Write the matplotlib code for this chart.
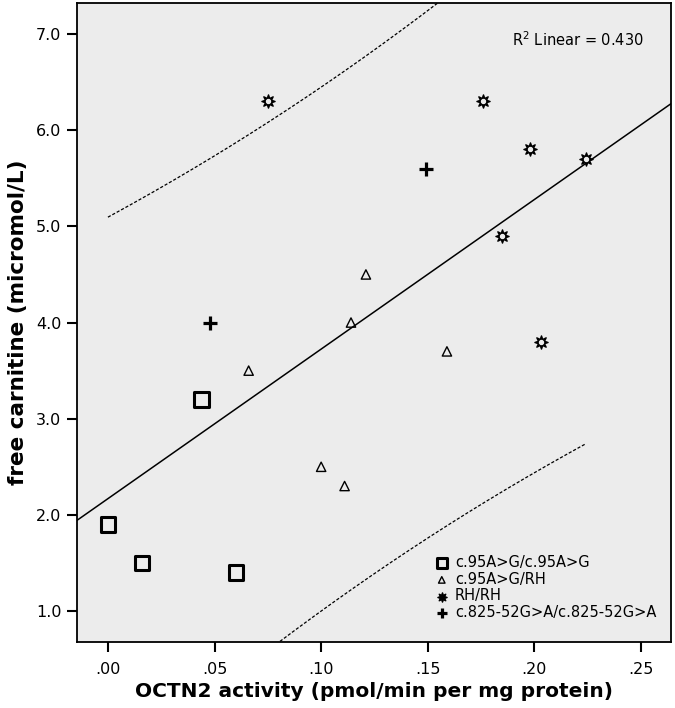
import numpy as np
import matplotlib
matplotlib.use("Agg")
import matplotlib.pyplot as plt

# genotype groups: OCTN2 activity (x) and free carnitine (y)
sq_x = [0.000, 0.016, 0.044, 0.060]
sq_y = [1.9, 1.5, 3.2, 1.4]
tri_x = [0.066, 0.100, 0.111, 0.114, 0.121, 0.159]
tri_y = [3.5, 2.5, 2.3, 4.0, 4.5, 3.7]
star_x = [0.075, 0.176, 0.185, 0.198, 0.203, 0.224]
star_y = [6.3, 6.3, 4.9, 5.8, 3.8, 5.7]
plus_x = [0.048, 0.149]
plus_y = [4.0, 5.6]

labels = ["c.95A>G/c.95A>G", "c.95A>G/RH", "RH/RH", "c.825-52G>A/c.825-52G>A"]
x_ticks = [0.00, 0.05, 0.10, 0.15, 0.20, 0.25]
x_ticklabels = [".00", ".05", ".10", ".15", ".20", ".25"]
y_ticks = [1.0, 2.0, 3.0, 4.0, 5.0, 6.0, 7.0]

plt.rcParams['font.family'] = ['DejaVu Sans']
bg = "#ececec"

fig = plt.figure(figsize=(6.75, 7.08), dpi=100)
ax = fig.add_axes([0.1141, 0.0932, 0.88, 0.9025])
ax.set_facecolor(bg)

# regression line + 95% prediction interval
x_all = np.array(sq_x + tri_x + star_x + plus_x)
y_all = np.array(sq_y + tri_y + star_y + plus_y)
b, a = np.polyfit(x_all, y_all, 1)
n = len(x_all)
resid = y_all - (a + b * x_all)
s = np.sqrt(np.sum(resid ** 2) / (n - 2))
t = 2.12  # t(0.975, 16)
xm = x_all.mean()
sxx = np.sum((x_all - xm) ** 2)

xl = np.linspace(-0.03, 0.28, 200)
ax.plot(xl, a + b * xl, color="black", lw=1.1, zorder=2)

xp = np.linspace(x_all.min(), x_all.max(), 200)
half = t * s * np.sqrt(1 + 1 / n + (xp - xm) ** 2 / sxx)
ax.plot(xp, a + b * xp + half, color="black", lw=0.9, ls=(0, (2.5, 1.5)), zorder=2)
ax.plot(xp, a + b * xp - half, color="black", lw=0.9, ls=(0, (2.5, 1.5)), zorder=2)

# markers
ax.scatter(sq_x, sq_y, marker="s", s=110, facecolor="none", edgecolor="black",
           linewidths=2.2, zorder=3, label=labels[0])
ax.scatter(tri_x, tri_y, marker="^", s=45, facecolor="none", edgecolor="black",
           linewidths=1.0, zorder=3, label=labels[1])
ax.scatter(star_x, star_y, marker=(8, 1, 0), s=90, color="black", zorder=3, label=labels[2])
ax.scatter(star_x, star_y, marker="o", s=8, color=bg, zorder=4)
ax.scatter(plus_x, plus_y, marker="+", s=90, color="black", linewidths=2.3, zorder=3,
           label=labels[3])

ax.text(0.1895, 6.94, r"R$^2$ Linear = 0.430", fontsize=10.5, va="center")

ax.set_xlim(-0.0145, 0.2641)
ax.set_ylim(0.678, 7.322)
ax.set_xticks(x_ticks)
ax.set_xticklabels(x_ticklabels)
ax.set_yticks(y_ticks)
ax.set_yticklabels([f"{v:.1f}" for v in y_ticks])
ax.tick_params(direction="out", length=7.2, width=1.5, labelsize=11.5)
ax.tick_params(axis="x", pad=7)
ax.tick_params(axis="y", pad=4)
for sp in ax.spines.values():
    sp.set_linewidth(1.3)

ax.set_xlabel("OCTN2 activity (pmol/min per mg protein)", fontsize=14.5,
              fontweight="bold", labelpad=4)
ax.set_ylabel("free carnitine (micromol/L)", fontsize=15.5, fontweight="bold",
              labelpad=6)

leg = ax.legend(loc="lower right", bbox_to_anchor=(0.985, 0.025), frameon=False,
                fontsize=10.5, handlelength=1.6, handletextpad=0.1, labelspacing=0.12,
                markerscale=0.7, borderaxespad=0.0)

fig.savefig("out.png", dpi=100)
